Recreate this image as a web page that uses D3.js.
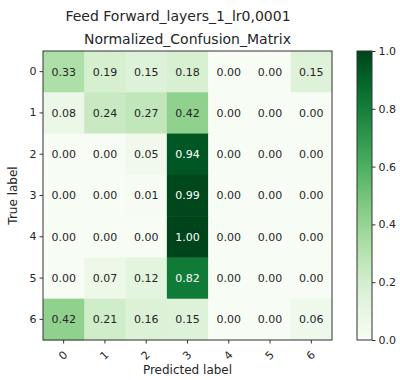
<!DOCTYPE html>
<html>
<head>
<meta charset="utf-8">
<script src="https://cdn.jsdelivr.net/npm/d3@7"></script>
<style>
  html, body { margin: 0; padding: 0; background: #fff; }
  svg { display: block; font-family: "DejaVu Sans", sans-serif; }
</style>
</head>
<body>
<svg id="chart" width="400" height="380"></svg>
<script>
// Class labels for both axes
const classes = ["0", "1", "2", "3", "4", "5", "6"];

// Row-normalised confusion matrix values (row = true label, column = predicted label)
const row0 = [0.33, 0.19, 0.15, 0.18, 0.00, 0.00, 0.15];
const row1 = [0.08, 0.24, 0.27, 0.42, 0.00, 0.00, 0.00];
const row2 = [0.00, 0.00, 0.05, 0.94, 0.00, 0.00, 0.00];
const row3 = [0.00, 0.00, 0.01, 0.99, 0.00, 0.00, 0.00];
const row4 = [0.00, 0.00, 0.00, 1.00, 0.00, 0.00, 0.00];
const row5 = [0.00, 0.07, 0.12, 0.82, 0.00, 0.00, 0.00];
const row6 = [0.42, 0.21, 0.16, 0.15, 0.00, 0.00, 0.06];
const matrix = [row0, row1, row2, row3, row4, row5, row6];

// Colour bar ticks
const colorbarTicks = [0.0, 0.2, 0.4, 0.6, 0.8, 1.0];

const titleText = "Feed Forward_layers_1_lr0,0001";
const subtitleText = "Normalized_Confusion_Matrix";
const xLabel = "Predicted label";
const yLabel = "True label";

const svg = d3.select("#chart");
const textColor = "#262626";

const plot = { left: 43, top: 51, size: 289 };
const x = d3.scaleBand().domain(classes).range([plot.left, plot.left + plot.size]);
const y = d3.scaleBand().domain(classes).range([plot.top, plot.top + plot.size]);
const vmax = d3.max(matrix.flat());
const color = d3.scaleSequential(d3.interpolateGreens).domain([0, vmax]);

const cells = [];
matrix.forEach((row, i) => row.forEach((v, j) => cells.push({ r: classes[i], c: classes[j], v })));

// Heatmap cells
svg.append("g").selectAll("rect").data(cells).join("rect")
  .attr("x", d => x(d.c))
  .attr("y", d => y(d.r))
  .attr("width", x.bandwidth() + 0.5)
  .attr("height", y.bandwidth() + 0.5)
  .attr("fill", d => color(d.v));

// Value annotations
const thresh = vmax / 2;
svg.append("g").selectAll("text").data(cells).join("text")
  .attr("x", d => x(d.c) + x.bandwidth() / 2)
  .attr("y", d => y(d.r) + y.bandwidth() / 2)
  .attr("dy", "0.36em")
  .attr("text-anchor", "middle")
  .attr("font-size", 11)
  .attr("fill", d => d.v > thresh ? "#ffffff" : textColor)
  .text(d => d.v.toFixed(2));

// Frame
svg.append("rect")
  .attr("x", plot.left).attr("y", plot.top)
  .attr("width", plot.size).attr("height", plot.size)
  .attr("fill", "none").attr("stroke", "#333").attr("stroke-width", 1);

// Y axis
const yAxis = svg.append("g")
  .attr("transform", `translate(${plot.left},0)`)
  .call(d3.axisLeft(y).tickSize(3.5).tickPadding(3));
yAxis.select(".domain").remove();
yAxis.selectAll("line").attr("stroke", "#333");
yAxis.selectAll("text").attr("font-size", 11).attr("fill", textColor)
  .attr("font-family", "DejaVu Sans");

// X axis with rotated labels
const xAxis = svg.append("g")
  .attr("transform", `translate(0,${plot.top + plot.size})`)
  .call(d3.axisBottom(x).tickSize(3.5).tickPadding(3));
xAxis.select(".domain").remove();
xAxis.selectAll("line").attr("stroke", "#333");
xAxis.selectAll("text")
  .attr("font-size", 11).attr("fill", textColor).attr("font-family", "DejaVu Sans")
  .attr("y", 0).attr("dy", 0)
  .attr("text-anchor", "middle")
  .attr("transform", "translate(0,16) rotate(-45)")
  .attr("dominant-baseline", "middle");

// Axis titles
svg.append("text")
  .attr("x", plot.left + plot.size / 2).attr("y", 374)
  .attr("text-anchor", "middle").attr("font-size", 12).attr("fill", textColor)
  .text(xLabel);
svg.append("text")
  .attr("transform", `translate(17,${plot.top + plot.size / 2}) rotate(-90)`)
  .attr("text-anchor", "middle").attr("font-size", 12).attr("fill", textColor)
  .text(yLabel);

// Titles
svg.append("text")
  .attr("x", 178).attr("y", 20.5)
  .attr("text-anchor", "middle").attr("font-size", 14).attr("fill", textColor)
  .text(titleText);
svg.append("text")
  .attr("x", plot.left + plot.size / 2).attr("y", 44)
  .attr("text-anchor", "middle").attr("font-size", 14).attr("fill", textColor)
  .text(subtitleText);

// Colour bar
const cb = { left: 357, width: 15, top: plot.top, height: plot.size };
const cbScale = d3.scaleLinear().domain([0, vmax]).range([cb.top + cb.height, cb.top]);
const defs = svg.append("defs");
const grad = defs.append("linearGradient").attr("id", "cbgrad")
  .attr("x1", 0).attr("y1", 1).attr("x2", 0).attr("y2", 0);
d3.range(0, 1.0001, 0.05).forEach(t => {
  grad.append("stop").attr("offset", t).attr("stop-color", color(t * vmax));
});
svg.append("rect")
  .attr("x", cb.left).attr("y", cb.top).attr("width", cb.width).attr("height", cb.height)
  .attr("fill", "url(#cbgrad)").attr("stroke", "#333").attr("stroke-width", 1);
const cbAxis = svg.append("g")
  .attr("transform", `translate(${cb.left + cb.width},0)`)
  .call(d3.axisRight(cbScale).tickValues(colorbarTicks).tickFormat(d3.format(".1f")).tickSize(3.5).tickPadding(3));
cbAxis.select(".domain").remove();
cbAxis.selectAll("line").attr("stroke", "#333");
cbAxis.selectAll("text").attr("font-size", 11).attr("fill", textColor)
  .attr("font-family", "DejaVu Sans");
</script>
</body>
</html>
